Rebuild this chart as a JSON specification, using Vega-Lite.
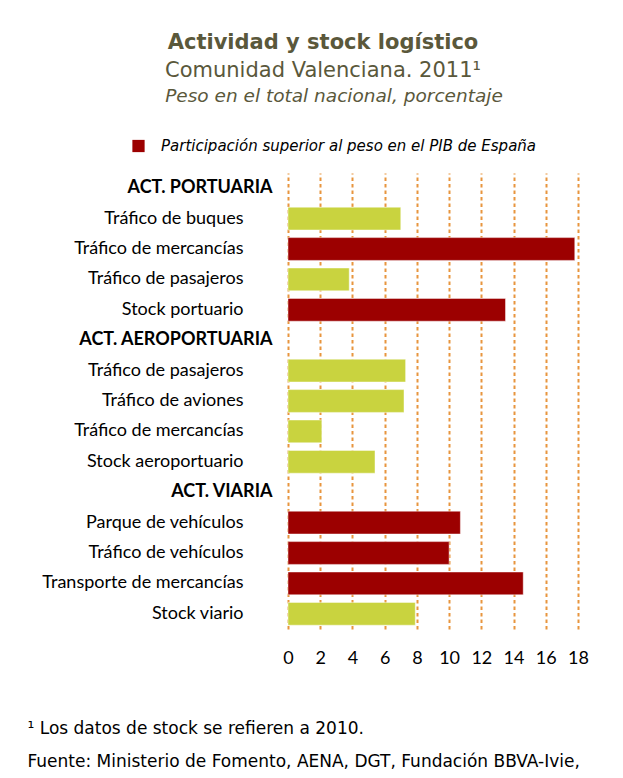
{
  "$schema": "https://vega.github.io/schema/vega-lite/v6.json",
  "autosize": {"type": "none"},
  "width": 290,
  "height": 456,
  "padding": {"left": 288, "top": 173, "right": 45, "bottom": 149},
  "background": "white",
  "title": {
    "text": "Actividad y stock logístico",
    "subtitle": "Comunidad Valenciana. 2011¹",
    "anchor": "middle",
    "frame": "group",
    "dx": -110,
    "offset": 6,
    "font": "DejaVu Sans",
    "fontSize": 21,
    "fontWeight": "bold",
    "color": "#5A583B",
    "subtitleFont": "DejaVu Sans",
    "subtitleFontSize": 21,
    "subtitleColor": "#5A583B",
    "subtitlePadding": 7
  },
  "data": {
    "values": [
      {"fila": "01|ACT. PORTUARIA", "valor": null, "grupo": null},
      {"fila": "02|Tráfico de buques", "valor": 7.0, "grupo": "Resto"},
      {"fila": "03|Tráfico de mercancías", "valor": 17.8, "grupo": "Participación superior al peso en el PIB de España"},
      {"fila": "04|Tráfico de pasajeros", "valor": 3.8, "grupo": "Resto"},
      {"fila": "05|Stock portuario", "valor": 13.5, "grupo": "Participación superior al peso en el PIB de España"},
      {"fila": "06|ACT. AEROPORTUARIA", "valor": null, "grupo": null},
      {"fila": "07|Tráfico de pasajeros", "valor": 7.3, "grupo": "Resto"},
      {"fila": "08|Tráfico de aviones", "valor": 7.2, "grupo": "Resto"},
      {"fila": "09|Tráfico de mercancías", "valor": 2.1, "grupo": "Resto"},
      {"fila": "10|Stock aeroportuario", "valor": 5.4, "grupo": "Resto"},
      {"fila": "11|ACT. VIARIA", "valor": null, "grupo": null},
      {"fila": "12|Parque de vehículos", "valor": 10.7, "grupo": "Participación superior al peso en el PIB de España"},
      {"fila": "13|Tráfico de vehículos", "valor": 10.0, "grupo": "Participación superior al peso en el PIB de España"},
      {"fila": "14|Transporte de mercancías", "valor": 14.6, "grupo": "Participación superior al peso en el PIB de España"},
      {"fila": "15|Stock viario", "valor": 7.9, "grupo": "Resto"}
    ]
  },
  "layer": [
    {
      "mark": {"type": "bar", "stroke": "white", "strokeOpacity": 0.45, "strokeWidth": 1},
      "encoding": {
        "y": {
          "field": "fila",
          "type": "nominal",
          "sort": "ascending",
          "scale": {
            "domain": ["01|ACT. PORTUARIA", "02|Tráfico de buques", "03|Tráfico de mercancías", "04|Tráfico de pasajeros", "05|Stock portuario", "06|ACT. AEROPORTUARIA", "07|Tráfico de pasajeros", "08|Tráfico de aviones", "09|Tráfico de mercancías", "10|Stock aeroportuario", "11|ACT. VIARIA", "12|Parque de vehículos", "13|Tráfico de vehículos", "14|Transporte de mercancías", "15|Stock viario"],
            "paddingInner": 0.25,
            "paddingOuter": 0.125
          },
          "axis": {
            "orient": "left",
            "title": null,
            "domain": false,
            "ticks": false,
            "grid": false,
            "labelFont": "Lato",
            "labelFontSize": 18,
            "labelColor": "black",
            "labelPadding": 45,
            "labelLimit": 300,
            "labelExpr": "indexof(datum.value, 'ACT.') >= 0 ? '' : split(datum.value, '|')[1]"
          }
        },
        "x": {
          "field": "valor",
          "type": "quantitative",
          "scale": {"domain": [0, 18], "nice": false},
          "axis": {
            "values": [0, 2, 4, 6, 8, 10, 12, 14, 16, 18],
            "domain": false,
            "ticks": false,
            "grid": true,
            "gridColor": "#E8953E",
            "gridDash": [3.5, 3],
            "gridWidth": 2,
            "gridOpacity": 1,
            "labelFont": "Lato",
            "labelFontSize": 18,
            "labelColor": "black",
            "labelPadding": 20,
            "labelFlush": false,
            "labelOverlap": false,
            "title": ["¹ Los datos de stock se refieren a 2010.", "Fuente: Ministerio de Fomento, AENA, DGT, Fundación BBVA-Ivie,"],
            "titleFont": "DejaVu Sans",
            "titleFontSize": 17,
            "titleFontWeight": "normal",
            "titleColor": "black",
            "titleAnchor": "start",
            "titleAlign": "left",
            "titleBaseline": "top",
            "titleX": -261,
            "titleY": 91,
            "titleLineHeight": 33,
            "titleLimit": 700
          }
        },
        "color": {
          "field": "grupo",
          "type": "nominal",
          "scale": {
            "domain": ["Participación superior al peso en el PIB de España", "Resto"],
            "range": ["#9C0000", "#C9D33F"]
          },
          "legend": {
            "values": ["Participación superior al peso en el PIB de España"],
            "orient": "none",
            "legendX": -157,
            "legendY": -86,
            "title": "Peso en el total nacional, porcentaje",
            "titleOrient": "top",
            "titleAnchor": "middle",
            "titleFont": "DejaVu Sans",
            "titleFontSize": 18.5,
            "titleFontStyle": "italic",
            "titleFontWeight": "normal",
            "titleColor": "#5A583B",
            "titlePadding": 33,
            "titleLimit": 500,
            "symbolType": "square",
            "symbolSize": 150,
            "symbolStrokeWidth": 0,
            "labelFont": "DejaVu Sans",
            "labelFontSize": 15,
            "labelFontStyle": "italic",
            "labelColor": "black",
            "labelOffset": 15,
            "labelLimit": 500
          }
        }
      }
    },
    {
      "mark": {"type": "text"},
      "encoding": {
        "y": {
          "field": "fila",
          "type": "nominal",
          "sort": "ascending",
          "axis": {
            "orient": "left",
            "title": null,
            "domain": false,
            "ticks": false,
            "grid": false,
            "labelFont": "Lato",
            "labelFontSize": 18,
            "labelFontWeight": "bold",
            "labelColor": "black",
            "labelPadding": 16,
            "labelLimit": 300,
            "labelExpr": "indexof(datum.value, 'ACT.') >= 0 ? split(datum.value, '|')[1] : ''"
          }
        },
        "text": {"value": ""}
      }
    }
  ],
  "resolve": {"axis": {"y": "independent"}},
  "config": {"view": {"stroke": null}}
}
